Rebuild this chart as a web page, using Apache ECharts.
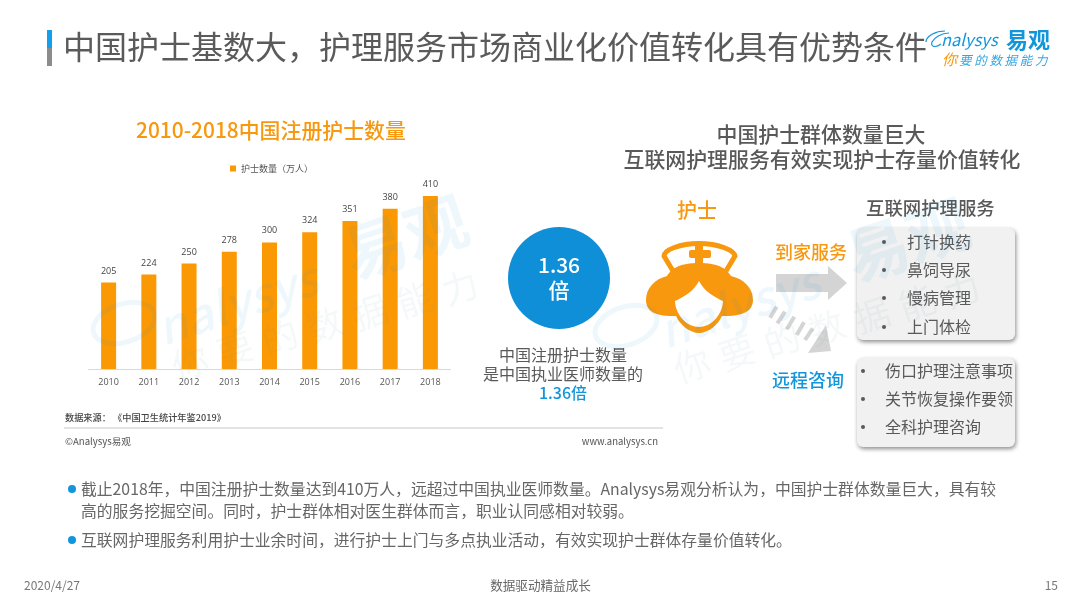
<!DOCTYPE html>
<html><head><meta charset="utf-8">
<style>html,body{margin:0;padding:0;background:#fff}#c{width:1080px;height:608px}</style>
<script src="https://cdn.jsdelivr.net/npm/echarts@6/dist/echarts.min.js"></script>
</head><body><div id="c"></div>
<script>
const years = ['2010','2011','2012','2013','2014','2015','2016','2017','2018'];
const nurseCounts = [205,224,250,278,300,324,351,380,410];
const seriesName = '护士数量（万人）';
const pageTitle = '中国护士基数大，护理服务市场商业化价值转化具有优势条件';
const chartTitle = '2010-2018中国注册护士数量';
const homeItems = ['打针换药','鼻饲导尿','慢病管理','上门体检'];
const remoteItems = ['伤口护理注意事项','关节恢复操作要领','全科护理咨询'];

const FONT = '"Noto Sans CJK SC","Noto Sans",sans-serif';
const ORANGE = '#f7980f', BLUE = '#1296db', GREY = '#595959';
const chart = echarts.init(document.getElementById('c'), null, {renderer:'canvas'});

let shapeId = 0;
function P(d,style,z){
  const name='svgShape'+(shapeId++);
  echarts.graphic.registerShape(name, echarts.graphic.extendPath(d,{}));
  return {type:name,z:z||1,silent:true,style:style};
}
function T(text,x,y,size,fill,o){
  o=o||{};
  return {type:'text',z:o.z||5,x:x,y:y,rotation:o.rot||0,silent:true,
    style:{text:text,x:0,y:0,fill:fill,opacity:o.op==null?1:o.op,font:(o.style||'normal')+' '+(o.w||'normal')+' '+size+'px '+FONT,
    align:o.a||'left',verticalAlign:'middle'}};
}
const g = [];
// header
g.push({type:'rect',shape:{x:47,y:30,width:5,height:18},style:{fill:'#12a0ee'}});
g.push({type:'rect',shape:{x:47,y:48,width:5,height:18},style:{fill:'#8c8c8c'}});
g.push(T(pageTitle,63,47,32,'#5a5a5a'));
// logo
g.push(P('M926 42 C926 36 936 31 945 31 M949 33 C941 33 934 38 932 42 C930 47 936 48 941 44',{fill:'none',stroke:BLUE,lineWidth:1.2}));
g.push(T('nalysys',941,40,16.5,BLUE,{style:'italic'}));
g.push(T('易观',1006,40,22,BLUE,{w:'bold'}));
g.push(T('你',942,59,15,ORANGE,{style:'italic'}));
'要的数据能力'.split('').forEach((c,i)=>g.push(T(c,959+i*15.2,60,12.5,BLUE,{style:'italic',op:.85})));

// right heading
g.push(T('中国护士群体数量巨大',821,134,20.9,GREY,{a:'center',w:'500'}));
g.push(T('互联网护理服务有效实现护士存量价值转化',822,159,20.9,GREY,{a:'center',w:'500'}));
// circle
g.push({type:'circle',shape:{cx:559,cy:278,r:51},style:{fill:'#0f8fd8'}});
g.push(T('1.36',559,265,21,'#fff',{a:'center',w:'500'}));
g.push(T('倍',559,290,21,'#fff',{a:'center',w:'500'}));
g.push(T('中国注册护士数量',563,355,16,GREY,{a:'center'}));
g.push(T('是中国执业医师数量的',563,374,16,GREY,{a:'center'}));
g.push(T('1.36倍',563,393,16,BLUE,{a:'center',w:'500'}));
// nurse
g.push(T('护士',697,210,20,ORANGE,{a:'center',w:'500'}));
g.push(P('M673 271 L664 256 C664 250 680 243.5 699 243.5 C718 243.5 734 250 735 256 L726 271',{fill:'none',stroke:ORANGE,lineWidth:5}));
g.push({type:'rect',shape:{x:689,y:250,width:22,height:8,r:2},style:{fill:ORANGE}});
g.push({type:'rect',shape:{x:695,y:245,width:8,height:22},style:{fill:ORANGE}});
g.push(P('M699 263 C680 263 672 268 667 276 C655 279 646 288 646 300 C646 311 655 316 672 316 L676 316 C680 325 690 333 699 333 C708 333 718 325 722 316 L726 316 C743 316 753 311 753 300 C753 288 744 279 731 276 C726 268 718 263 699 263 Z',{fill:ORANGE}));
g.push(P('M699 281 C694 291 684 297 675 301 C675 312 685 327 699 327 C713 327 723 312 723 301 C714 297 704 291 699 281 Z',{fill:'#fff'},2));
// connectors
g.push(T('到家服务',775,252,18,ORANGE,{w:'500'}));
g.push({type:'polygon',shape:{points:[[776,274],[828,274],[828,266],[847,283],[828,300],[828,292],[776,292]]},style:{fill:'#d4d4d4'}});
[[776.7,306.7,770,317.7],[785,311.7,777.3,323.3],[794.3,316.7,786.7,329.3],[804,322.3,796.7,335],[812.7,328.3,805,340]].forEach(s=>{
  g.push({type:'line',shape:{x1:s[0],y1:s[1],x2:s[2],y2:s[3]},style:{stroke:'#d4d4d4',lineWidth:4}});
});
g.push({type:'polygon',shape:{points:[[826,325],[831,351],[808,353]]},style:{fill:'#d4d4d4'}});
g.push(T('远程咨询',772,380,18,BLUE,{w:'500'}));
// boxes
g.push(T('互联网护理服务',866,208,18.4,GREY,{w:'500'}));
function box(y,h){return {type:'rect',shape:{x:857,y:y,width:158,height:h,r:6},style:{fill:'#f1f1f1',shadowBlur:4,shadowOffsetX:1,shadowOffsetY:2,shadowColor:'rgba(0,0,0,.45)'}};}
g.push(box(228,112)); g.push(box(358,89));
homeItems.forEach((t,i)=>{
  const y=[242,270,298,327][i];
  g.push(T(t,907,y,16,GREY)); g.push({type:'circle',z:5,shape:{cx:884,cy:y,r:2},style:{fill:GREY}});
});
remoteItems.forEach((t,i)=>{
  const y=[371,399,427][i];
  g.push(T(t,885,y,16,GREY)); g.push({type:'circle',z:5,shape:{cx:863,cy:y,r:2},style:{fill:GREY}});
});
// source lines
g.push(T('数据来源： 《中国卫生统计年鉴2019》',65,418,9.2,'#444',{w:'500'}));
g.push({type:'line',shape:{x1:64,y1:428,x2:663,y2:428},style:{stroke:'#c8c8c8',lineWidth:1}});
g.push(T('©Analysys易观',65,441,9.6,'#555'));
g.push(T('www.analysys.cn',658,441,9.5,'#555',{a:'right'}));
// bullets
[[489,'截止2018年，中国注册护士数量达到410万人，远超过中国执业医师数量。Analysys易观分析认为，中国护士群体数量巨大，具有较',true],
 [511,'高的服务挖掘空间。同时，护士群体相对医生群体而言，职业认同感相对较弱。',false],
 [540,'互联网护理服务利用护士业余时间，进行护士上门与多点执业活动，有效实现护士群体存量价值转化。',true]].forEach(r=>{
  g.push(T(r[1],81,r[0],15.8,'#666'));
  if(r[2]) g.push({type:'circle',shape:{cx:72,cy:r[0],r:4},style:{fill:BLUE}});
});
// footer
g.push(T('2020/4/27',24,585,12,'#777'));
g.push(T('数据驱动精益成长',540.5,585,12.6,'#666',{a:'center'}));
g.push(T('15',1058,585,12,'#777',{a:'right'}));
// watermarks (rotated text)
const rot = 18.5*Math.PI/180, WM='rgba(20,140,215,0.07)', WM2='rgba(90,130,150,0.06)';
function wm(x,y){
  g.push({type:'ellipse',z:9,x:x,y:y,rotation:rot,silent:true,shape:{cx:0,cy:0,rx:32,ry:19},style:{fill:'none',stroke:WM,lineWidth:5}});
  g.push(T('nalysys',x+34,y+6,47,WM,{z:9,rot:rot,w:'500',style:'italic'}));
  g.push(T('易观',x+222,y-66,63,WM,{z:9,rot:rot,w:'bold'}));
  '你要的数据能力'.split('').forEach((c,i)=>g.push(T(c,x+66+i*45,y+39-i*12.5,36,WM2,{z:9,rot:rot,a:'center'})));
}
wm(124,323); wm(626,326);

chart.setOption({
  animation:false,
  backgroundColor:'#fff',
  title:{text:chartTitle,left:136,top:120,padding:0,itemGap:0,textStyle:{color:ORANGE,fontSize:20.9,fontWeight:500,fontFamily:FONT}},
  legend:{data:[{name:seriesName,icon:'rect'}],left:230,top:164,padding:0,itemWidth:6,itemHeight:6,itemGap:2,textStyle:{color:'#555',fontSize:9,fontFamily:FONT}},
  grid:{left:88.5,right:629.5,top:196,height:173,containLabel:false},
  xAxis:{type:'category',data:years,axisTick:{show:false},axisLine:{lineStyle:{color:'#d9d9d9',width:1}},
    axisLabel:{color:'#555',fontSize:9,margin:9,fontFamily:'"Open Sans",'+FONT}},
  yAxis:{type:'value',min:0,max:410,show:false,splitLine:{show:false}},
  series:[{name:seriesName,type:'bar',data:nurseCounts,barWidth:15,itemStyle:{color:'#fb9905'},
    label:{show:true,position:'top',distance:7,color:'#444',fontSize:9,fontFamily:'"Open Sans",'+FONT}}],
  graphic:{elements:g}
});
</script></body></html>
